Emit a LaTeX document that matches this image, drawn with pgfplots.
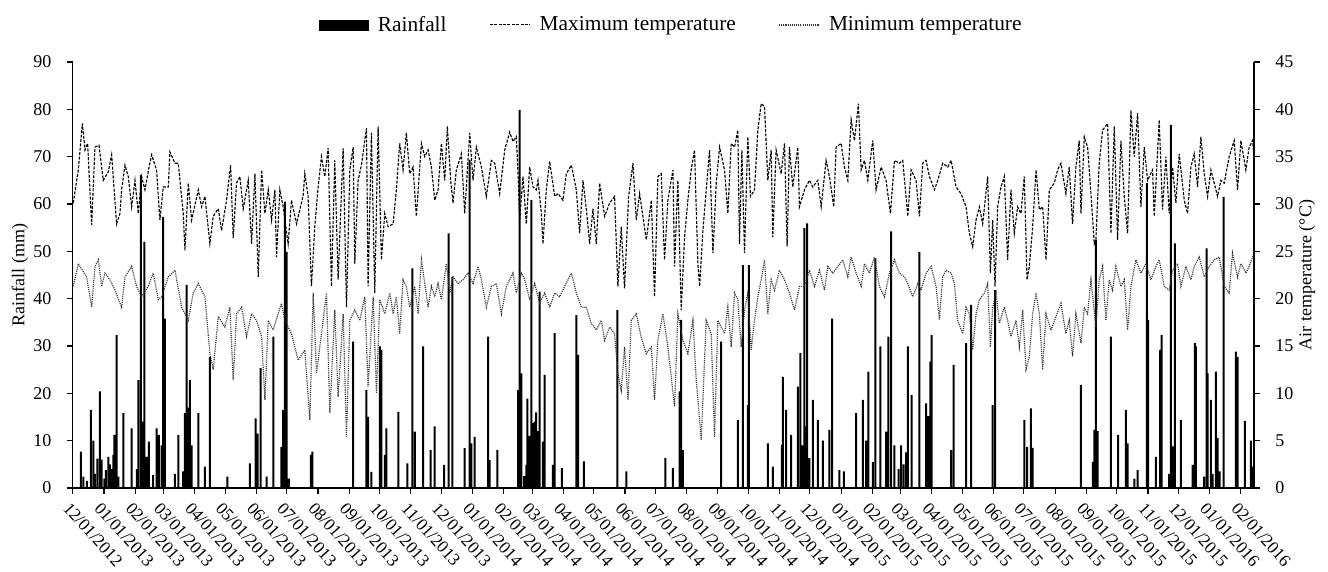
\documentclass[border=0pt]{standalone}
\usepackage{pgfplots}
\usepackage{pgfplotstable}
\pgfplotsset{compat=1.18}
\usepackage{fontspec}
\setmainfont{Liberation Serif}

\pgfplotstableread{
day rain
8.2 7.7
10.5 2.4
14.0 1.5
18.1 16.5
20.4 10.0
22.1 3.0
24.5 6.2
27.0 20.4
28.7 6.0
31.5 2.0
33.0 3.8
35.3 6.6
36.9 5.0
38.5 4.0
40.2 7.0
41.2 11.2
43.5 32.3
45.2 2.4
50.1 15.8
58.4 12.6
63.5 4.0
65.0 22.8
67.6 66.1
69.3 14.0
70.9 52.0
73.2 6.6
75.5 9.8
79.8 2.7
83.1 12.6
85.4 11.2
88.0 9.0
89.7 57.3
91.4 35.8
101.3 3.0
104.6 11.2
109.5 3.5
111.2 15.8
112.8 42.9
114.5 17.0
116.1 22.8
117.8 9.0
124.4 15.8
131.0 4.5
135.9 27.7
153.1 2.4
175.5 5.2
181.1 14.7
183.1 11.5
186.1 25.3
192.0 2.4
198.9 32.0
206.8 8.7
208.5 16.5
210.1 60.5
211.8 49.9
214.1 2.0
235.9 7.0
237.5 7.7
277.8 30.9
291.0 20.7
292.6 15.0
295.9 3.4
304.2 29.9
305.8 29.2
309.1 7.0
310.8 12.6
322.6 16.1
331.5 5.2
336.5 46.4
338.8 11.9
347.1 29.9
354.6 8.0
358.6 13.0
367.8 4.9
372.4 53.8
376.1 44.6
388.3 8.4
393.2 69.3
394.9 9.4
398.2 10.8
411.4 32.0
413.0 5.9
420.6 8.0
441.1 20.7
442.7 79.9
444.4 24.2
447.0 2.5
449.3 4.9
450.3 18.9
452.0 11.0
454.3 60.8
455.9 13.7
457.6 14.0
459.0 16.0
460.2 12.0
462.5 41.5
465.8 9.8
467.5 23.9
475.7 4.9
477.4 32.7
484.6 4.2
498.8 36.5
500.5 28.1
506.4 5.6
539.4 37.6
548.3 3.5
586.9 6.3
594.5 4.2
601.1 20.4
602.7 35.5
604.4 8.0
642.3 30.9
658.8 14.4
663.7 47.1
668.7 17.5
669.7 47.1
688.5 9.4
693.4 4.5
702.3 9.1
703.3 23.5
706.6 16.5
711.6 11.2
718.2 21.4
720.8 28.5
722.8 9.0
724.8 54.9
726.0 13.0
727.4 55.9
729.7 6.3
733.0 18.6
738.0 14.4
742.9 10.0
749.5 12.3
752.2 35.8
759.4 3.8
763.7 3.5
775.9 15.8
782.5 18.6
785.8 10.0
788.1 24.6
792.4 5.5
795.1 48.5
800.0 29.9
805.6 11.9
807.9 32.0
810.6 54.2
813.9 9.0
818.0 4.0
820.5 9.0
823.0 5.0
825.4 7.5
827.1 29.9
831.0 19.6
838.6 49.9
845.2 17.9
847.5 15.2
849.5 26.7
850.8 32.3
870.0 8.0
872.6 26.0
884.8 30.6
889.8 38.7
911.2 17.5
913.5 41.8
942.5 14.4
945.2 8.7
949.1 16.8
950.8 8.5
998.6 21.8
1010.5 5.5
1011.8 12.3
1013.4 52.4
1015.1 12.0
1028.3 32.0
1035.5 11.2
1043.1 16.5
1044.8 9.4
1051.4 2.0
1054.7 3.8
1063.9 64.4
1065.2 35.5
1072.8 6.6
1077.1 29.2
1078.4 32.3
1086.0 3.0
1087.7 76.7
1089.3 8.8
1091.6 51.7
1097.6 14.4
1109.1 4.9
1111.4 30.6
1112.4 29.9
1120.7 2.4
1123.0 50.6
1124.0 24.2
1127.3 18.6
1129.0 3.0
1132.2 24.6
1133.9 10.6
1136.0 3.5
1139.8 61.5
1152.0 28.8
1153.7 27.7
1160.9 14.2
1166.9 10.0
1168.5 4.5
}\raintable

\pgfplotstableread{
day t
0.6 30.1
5.6 33.6
9.6 38.5
12.2 35.7
14.8 36.4
18.8 27.8
22.1 36.0
26.1 36.2
30.3 32.5
35.3 33.4
38.6 35.2
43.5 27.9
46.8 29.0
48.5 31.5
51.8 34.1
55.1 32.9
58.4 29.7
61.7 32.5
65.0 29.0
68.3 32.9
71.6 31.5
75.5 33.8
78.2 35.2
83.1 33.6
86.4 28.3
89.7 31.8
94.7 31.8
96.3 35.5
101.3 34.3
104.6 34.3
109.5 29.0
111.2 25.1
114.5 32.2
117.8 28.3
124.4 31.5
127.7 29.7
131.0 30.8
135.9 25.8
139.2 28.7
144.2 29.5
147.5 27.2
152.4 30.4
156.4 34.1
159.0 26.4
162.3 32.2
165.6 32.9
168.9 29.5
173.9 32.5
177.2 25.8
180.5 33.2
183.8 22.3
187.1 33.6
190.4 29.0
193.7 31.5
197.0 28.3
200.3 31.5
201.9 24.4
205.2 31.5
208.5 29.7
213.4 25.8
216.7 30.4
221.7 27.9
225.0 29.4
228.3 30.9
229.9 33.2
233.2 30.8
236.5 21.3
239.8 27.6
243.1 31.8
246.4 35.0
249.7 32.9
253.0 35.9
256.3 21.3
259.6 34.6
262.9 22.0
267.9 35.9
271.2 19.1
274.5 33.6
277.8 36.0
279.4 23.7
282.7 32.5
286.0 34.1
291.0 38.0
292.6 21.3
295.9 37.5
299.2 20.6
302.5 38.2
305.8 24.1
309.1 29.0
312.4 27.6
317.4 27.9
320.6 31.5
323.9 36.4
327.2 33.6
330.5 37.5
333.8 33.2
337.1 33.9
340.4 28.7
345.4 36.4
348.7 35.0
352.0 35.7
355.3 33.9
358.6 30.4
361.9 31.5
365.2 36.4
368.5 32.5
371.1 38.2
374.4 32.5
376.7 30.1
380.0 33.6
385.0 35.3
388.3 29.0
393.2 37.5
396.5 32.5
399.8 36.0
404.8 33.9
409.7 30.8
414.7 34.6
418.0 34.3
422.9 31.1
427.9 35.7
432.8 37.6
436.1 36.6
439.4 37.1
441.1 33.2
442.7 28.3
446.0 32.9
449.3 27.9
452.6 33.9
455.9 31.8
459.2 31.5
460.9 32.5
464.2 29.0
465.8 25.8
469.1 31.5
472.4 34.5
477.4 30.8
480.7 31.1
485.6 30.4
488.9 33.2
493.9 34.1
498.8 31.5
502.1 26.9
505.4 32.5
508.7 29.5
512.0 25.8
515.3 29.5
518.6 25.8
521.9 32.2
526.9 28.7
531.8 30.1
536.7 30.8
540.0 21.3
543.3 27.6
546.6 21.1
550.6 30.8
554.9 34.3
558.2 28.3
561.5 31.1
568.1 26.2
573.1 30.4
576.3 20.2
579.6 32.9
582.9 33.2
586.2 24.1
589.5 30.4
594.5 33.6
596.1 23.4
599.4 32.5
602.7 18.8
606.0 26.5
609.3 30.4
612.6 33.6
615.9 35.7
619.2 23.7
620.9 21.3
624.2 27.2
627.5 31.5
630.8 35.7
634.1 24.8
637.4 32.2
640.7 36.0
645.6 33.6
648.9 29.0
652.2 36.4
655.5 36.0
658.8 37.8
660.4 25.8
662.8 35.7
665.4 24.8
668.7 37.1
671.3 30.8
675.3 31.5
678.6 37.8
681.9 40.6
685.2 40.3
688.5 32.5
691.8 35.7
693.4 26.5
696.7 35.7
701.7 33.2
705.0 36.4
707.6 25.5
709.9 36.0
713.2 31.8
718.2 36.0
719.8 29.7
724.8 31.5
729.7 32.5
733.0 31.8
738.0 32.5
741.3 29.7
746.2 34.6
749.5 32.9
753.8 29.7
756.1 36.0
761.1 36.4
764.4 33.9
767.7 32.5
771.0 38.9
774.3 36.7
778.2 40.6
780.9 33.6
784.2 34.6
787.5 32.5
792.4 36.7
795.7 31.5
800.7 33.9
805.6 32.5
809.9 29.0
813.9 34.6
818.8 34.3
822.1 34.6
827.1 28.7
830.4 33.6
835.3 32.5
838.6 28.7
841.9 34.3
845.2 34.6
848.5 32.9
853.5 31.5
856.8 32.5
861.7 34.3
866.7 33.9
870.0 34.6
874.9 31.8
879.8 31.1
884.8 29.7
888.1 26.9
891.4 25.5
894.7 28.3
898.0 29.7
901.3 27.9
906.2 32.9
908.9 22.7
911.2 28.3
913.5 21.3
916.1 29.7
919.4 31.8
922.7 32.9
926.0 24.1
929.3 31.5
932.6 26.9
935.9 29.7
939.2 29.0
942.5 32.9
945.2 22.0
947.5 23.4
950.8 27.6
954.1 33.6
957.4 29.4
960.7 29.7
964.0 24.1
967.3 31.5
972.2 32.2
975.5 33.6
978.8 34.3
983.7 31.1
987.0 33.9
990.3 27.9
993.6 33.9
996.9 36.7
998.6 29.0
1001.9 37.1
1005.2 36.0
1008.5 31.1
1011.8 25.8
1013.4 26.2
1016.7 34.3
1020.0 37.8
1025.0 38.5
1028.3 26.9
1031.6 38.2
1034.9 26.2
1038.2 36.7
1041.5 30.8
1044.8 26.9
1048.1 39.9
1051.4 35.0
1054.7 39.6
1058.0 29.7
1061.3 36.0
1064.6 32.5
1069.5 33.6
1071.2 28.7
1076.1 38.9
1079.4 29.4
1082.7 35.0
1086.0 29.0
1089.3 33.9
1092.6 30.1
1095.9 35.3
1100.9 30.4
1104.2 29.0
1107.5 33.9
1110.8 35.3
1114.1 31.8
1117.4 37.1
1120.7 33.2
1124.0 30.8
1127.3 33.6
1130.6 32.2
1133.9 30.8
1137.2 32.5
1140.5 32.2
1145.4 35.0
1150.4 36.7
1153.7 31.5
1157.0 36.7
1161.9 33.6
1165.2 36.0
1168.5 36.7
1170.0 35.0
}\tmaxtable

\pgfplotstableread{
day t
0.6 21.3
5.6 23.7
9.6 23.0
13.8 22.3
18.8 19.1
22.1 23.4
25.4 24.1
28.7 21.3
32.0 22.7
36.9 22.0
41.9 20.9
48.5 19.1
51.8 22.3
58.4 23.4
63.3 21.3
68.3 20.2
74.9 21.3
79.8 22.7
84.8 19.9
88.1 20.2
94.7 22.3
101.3 23.0
107.9 19.1
114.5 17.7
119.4 20.6
124.4 21.6
131.0 20.2
135.9 14.2
139.2 12.5
144.2 18.1
150.8 17.0
155.7 19.1
159.0 11.4
162.3 18.4
167.3 19.1
172.2 16.0
177.2 18.4
182.1 17.7
187.1 16.0
190.4 9.3
193.7 17.7
198.6 16.7
203.5 18.4
206.8 19.5
210.1 17.7
216.7 16.3
223.3 13.5
229.9 14.6
234.9 7.2
238.2 20.6
241.5 12.1
246.4 16.3
251.4 20.6
254.7 7.9
259.6 18.8
262.9 9.6
267.9 18.4
271.2 5.4
274.5 17.7
279.4 18.8
284.4 17.7
289.3 20.2
292.6 10.7
297.6 20.2
300.9 10.0
304.2 19.9
309.1 18.4
314.1 20.6
317.4 18.4
320.6 20.2
323.9 16.3
327.2 22.0
330.5 21.3
333.8 19.1
338.8 21.3
342.1 18.4
345.4 24.1
348.7 21.6
352.0 19.1
355.3 21.3
358.6 20.2
361.9 21.6
365.2 19.9
370.1 23.7
373.4 20.6
376.7 22.3
381.7 21.6
386.6 22.0
391.6 22.7
396.5 21.6
401.5 23.4
404.8 22.0
409.7 19.1
414.7 21.3
419.6 21.6
424.6 18.4
429.5 21.3
436.1 22.7
439.4 20.6
444.4 22.7
447.7 22.0
452.6 19.9
457.6 21.6
462.5 19.5
467.5 20.6
472.4 19.1
477.4 20.6
482.3 20.2
487.3 21.3
493.9 22.7
498.8 20.6
503.8 19.1
508.7 19.1
513.6 17.4
518.6 16.7
523.6 17.7
526.9 15.6
531.8 17.0
536.7 16.3
540.0 12.1
543.3 10.3
546.6 14.9
550.0 9.3
553.2 17.7
558.2 18.4
563.1 15.9
568.1 14.2
573.1 14.9
576.3 9.3
579.6 15.6
584.6 18.4
589.5 14.9
596.1 8.6
599.4 18.4
604.4 15.6
609.3 14.2
614.3 17.7
617.6 11.4
622.5 5.1
627.5 17.7
632.4 16.3
635.7 5.4
639.0 17.7
645.6 16.3
648.9 19.1
652.2 14.9
655.5 20.6
658.8 19.9
662.1 14.9
665.4 18.8
668.7 20.6
672.0 14.6
675.3 17.7
678.6 20.2
681.9 22.0
685.2 24.1
688.5 18.4
691.8 22.0
695.1 20.9
700.0 23.0
705.0 22.0
709.9 20.6
714.9 18.8
719.8 21.3
724.8 21.3
729.7 23.0
734.7 21.3
739.6 23.0
744.6 20.9
747.9 23.4
752.8 22.7
757.8 23.4
762.7 24.1
767.7 22.3
771.0 24.4
775.9 22.7
780.9 21.3
784.2 23.7
789.1 22.7
794.1 24.4
799.0 21.3
804.0 20.2
808.9 22.7
813.9 24.1
818.8 22.7
823.8 22.3
827.1 21.6
832.0 20.2
837.0 21.6
840.3 20.9
845.2 22.7
850.2 23.4
855.1 21.3
858.4 17.8
861.7 22.3
865.0 23.0
870.0 22.7
873.3 21.6
876.5 17.7
881.5 16.3
884.8 19.1
888.1 18.4
891.4 14.6
894.7 18.4
898.0 19.9
903.0 20.6
906.2 21.6
908.9 14.9
911.2 19.1
914.5 20.6
917.8 17.4
922.7 19.1
926.0 17.7
929.3 16.0
934.3 17.7
937.6 14.9
940.9 18.8
944.2 12.5
947.5 13.9
950.8 18.4
954.1 20.6
957.4 18.4
960.7 12.5
964.0 18.4
968.9 16.7
973.9 18.1
978.8 19.5
983.7 16.3
987.0 17.7
990.3 13.9
993.6 18.4
998.6 15.3
1001.9 19.1
1005.2 18.4
1008.5 22.0
1013.4 17.0
1016.7 22.0
1020.0 23.4
1023.3 17.7
1026.6 22.0
1029.9 20.9
1033.2 23.4
1038.2 21.3
1041.5 22.0
1044.8 16.7
1048.1 21.3
1053.0 24.1
1058.0 22.7
1062.9 23.7
1067.9 22.0
1072.8 23.4
1076.1 24.1
1081.1 21.3
1086.0 20.9
1089.3 23.0
1094.3 23.7
1097.6 21.3
1102.5 23.4
1107.5 22.0
1110.8 23.4
1115.7 24.4
1120.7 22.3
1125.6 23.4
1130.6 24.1
1135.5 24.4
1140.5 21.3
1145.4 20.6
1148.7 24.8
1153.7 22.3
1157.0 23.7
1161.9 22.7
1165.2 23.4
1170.0 24.8
}\tmintable

\begin{document}
\begin{tikzpicture}[font=\fontsize{13.5}{16}\selectfont]
\pgfplotsset{
  common/.style={
    scale only axis, width=886pt, height=319.5pt,
    xmin=0, xmax=1170,
    tick align=outside, major tick length=4.5pt,
    axis line style={-, line width=0.8pt},
    tick style={line width=0.8pt, black},
    /pgf/number format/assume math mode=true,
    ticklabel style={font=\fontsize{13.5}{16}\selectfont},
    label style={font=\fontsize{15}{18}\selectfont},
  }
}
\begin{axis}[common, name=main,
  axis y line*=left, axis x line*=bottom,
  ymin=0, ymax=90, ytick={0,10,...,90},
  ylabel={Rainfall (mm)},
  every axis y label/.style={at={(axis description cs:0,0.5)}, xshift=-39.5pt, rotate=90, anchor=center},
  yticklabel style={anchor=east, xshift=-8pt},
  xtick={0,31,62,90,121,151,182,212,243,274,304,335,365,396,427,455,486,516,547,577,608,639,669,700,730,761,792,820,851,881,912,942,973,1004,1034,1065,1095,1126,1157},
  xticklabels={12/01/2012,01/01/2013,02/01/2013,03/01/2013,04/01/2013,05/01/2013,06/01/2013,07/01/2013,08/01/2013,09/01/2013,10/01/2013,11/01/2013,12/01/2013,01/01/2014,02/01/2014,03/01/2014,04/01/2014,05/01/2014,06/01/2014,07/01/2014,08/01/2014,09/01/2014,10/01/2014,11/01/2014,12/01/2014,01/01/2015,02/01/2015,03/01/2015,04/01/2015,05/01/2015,06/01/2015,07/01/2015,08/01/2015,09/01/2015,10/01/2015,11/01/2015,12/01/2015,01/01/2016,02/01/2016},
  xticklabel style={rotate=-48, anchor=north west, inner sep=0pt, xshift=3pt, yshift=-4.5pt, font=\fontsize{13}{15}\selectfont},
]
\addplot[ybar, bar width=1.5pt, fill=black, draw=none] table[x=day, y=rain] {\raintable};
\end{axis}
\begin{axis}[common,
  axis y line*=right, axis x line=none,
  ymin=0, ymax=45, ytick={0,5,...,45},
  ylabel={Air temperature (°C)},
  every axis y label/.style={at={(axis description cs:1,0.5)}, xshift=39.75pt, rotate=90, anchor=center},
  yticklabel style={anchor=west, xshift=8pt},
  legend columns=3,
  legend style={draw=none, at={(0.507,1.087)}, anchor=center, inner sep=0pt,
    /tikz/every odd column/.append style={column sep=5pt},
    /tikz/every even column/.append style={column sep=30pt},
    font=\fontsize{16}{19}\selectfont},
  legend image code/.code={\draw[#1] (0pt,0pt) -- (30pt,0pt);},
]
\addlegendimage{legend image code/.code={\fill[black] (0pt,-3.75pt) rectangle (36.75pt,3.75pt);}}
\addlegendentry{Rainfall}
\addplot[black, line width=0.85pt, dash pattern=on 2.2pt off 1.1pt] table[x=day, y=t] {\tmaxtable};
\addlegendentry{Maximum temperature}
\addplot[black!80, line width=0.9pt, dash pattern=on 0.8pt off 0.8pt] table[x=day, y=t] {\tmintable};
\addlegendentry{Minimum temperature}
\end{axis}
\pgfresetboundingbox
\path[use as bounding box] ([xshift=-54.5pt,yshift=-63pt]main.south west) rectangle ([xshift=55.5pt,yshift=46.5pt]main.north east);
\end{tikzpicture}
\end{document}
